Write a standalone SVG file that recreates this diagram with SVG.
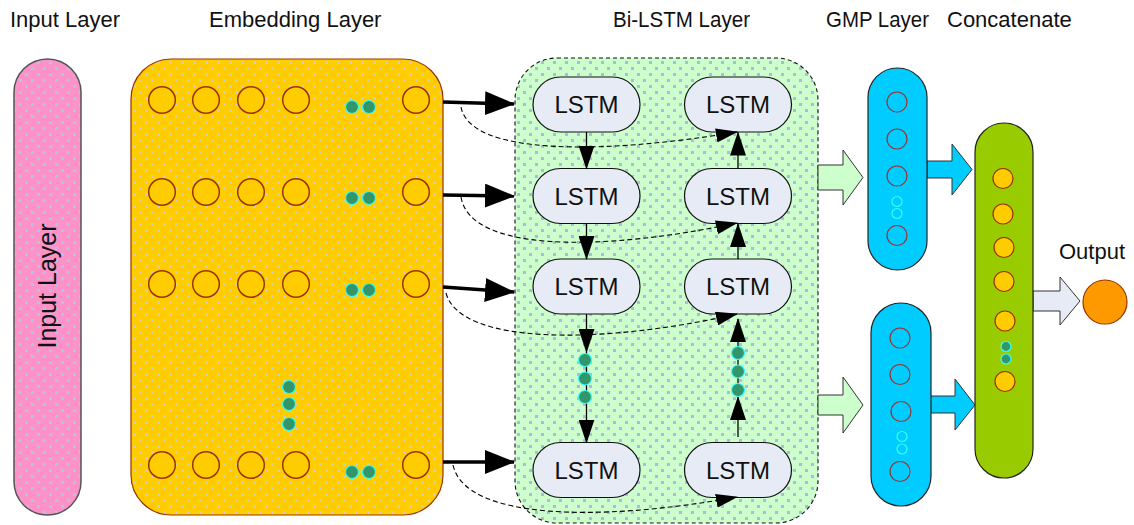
<svg xmlns="http://www.w3.org/2000/svg" width="1134" height="525" viewBox="0 0 1134 525">
<defs>
<style>
.title{font-family:"Liberation Sans",Arial,sans-serif;font-size:22px;fill:#111}
.lstm-text{font-family:"Liberation Sans",Arial,sans-serif;font-size:24px;fill:#111;text-anchor:middle}
.lstm{fill:#E6EBF6;stroke:#111;stroke-width:1.2}
.emb{fill:#FFCC00;stroke:#993300;stroke-width:1.5}
.gdot{fill:#33966A;stroke:#33FFFF;stroke-width:1.2}
.gmpc{fill:none;stroke:#993333;stroke-width:1.2}
.gmps{fill:none;stroke:#33FFFF;stroke-width:1.2}
.catc{fill:#FFCC00;stroke:#993300;stroke-width:1.2}
.thick{stroke:#000;stroke-width:3.5;fill:none;marker-end:url(#big)}
.vert{stroke:#000;stroke-width:1.3;fill:none;marker-end:url(#mid)}
.dash{stroke:#000;stroke-width:1.1;fill:none;stroke-dasharray:5 3;marker-end:url(#dh)}
</style>
<pattern id="pPink" width="12" height="12" patternUnits="userSpaceOnUse">
<rect width="12" height="12" fill="#FB93C8"/>
<rect x="1" y="1" width="3" height="3" fill="#A9C6E2"/>
<rect x="7" y="7" width="3" height="3" fill="#A9C6E2"/>
</pattern>
<pattern id="pGold" width="12" height="12" patternUnits="userSpaceOnUse">
<rect width="12" height="12" fill="#FFCC00"/>
<rect x="1" y="1" width="3" height="3" fill="#C3CADA"/>
<rect x="7" y="7" width="3" height="3" fill="#C3CADA"/>
</pattern>
<pattern id="pGreen" width="12" height="12" patternUnits="userSpaceOnUse">
<rect width="12" height="12" fill="#CCFFCC"/>
<rect x="1" y="1" width="3" height="3" fill="#ABB8E8"/>
<rect x="7" y="7" width="3" height="3" fill="#ABB8E8"/>
</pattern>
<marker id="big" viewBox="0 0 30 24" markerWidth="30" markerHeight="24" refX="29" refY="12" orient="auto" markerUnits="userSpaceOnUse">
<path d="M0,0 L30,12 L0,24 z" fill="#000"/>
</marker>
<marker id="mid" viewBox="0 0 24 16" markerWidth="24" markerHeight="16" refX="23" refY="8" orient="auto" markerUnits="userSpaceOnUse">
<path d="M0,0 L24,8 L0,16 z" fill="#000"/>
</marker>
<marker id="dh" viewBox="0 0 22 14" markerWidth="22" markerHeight="14" refX="21" refY="7" orient="auto" markerUnits="userSpaceOnUse">
<path d="M0,0 L22,7 L0,14 z" fill="#000"/>
</marker>
</defs>
<rect width="1134" height="525" fill="#fff"/>

<g id="titles">
<text class="title" x="10" y="27">Input Layer</text>
<text class="title" x="209" y="27">Embedding Layer</text>
<text class="title" x="613" y="27" textLength="137" lengthAdjust="spacingAndGlyphs">Bi-LSTM Layer</text>
<text class="title" x="826" y="27" textLength="103" lengthAdjust="spacingAndGlyphs">GMP Layer</text>
<text class="title" x="947" y="27">Concatenate</text>
<text class="title" x="1059" y="259">Output</text>
</g>

<g id="input-layer">
<rect x="14" y="59" width="67" height="456" rx="33.5" fill="url(#pPink)" stroke="#555" stroke-width="1.5"/>
<text class="title" style="font-size:25px" text-anchor="middle" transform="translate(56,286) rotate(-90)">Input Layer</text>
</g>

<g id="embedding-layer">
<rect x="131" y="59" width="312" height="456" rx="40" fill="url(#pGold)" stroke="#993300" stroke-width="1.2"/>
<g>
<circle class="emb" cx="162" cy="100" r="13.3"/><circle class="emb" cx="206" cy="100" r="13.3"/><circle class="emb" cx="251" cy="100" r="13.3"/><circle class="emb" cx="296" cy="100" r="13.3"/><circle class="emb" cx="416" cy="100" r="13.3"/>
<circle class="gdot" cx="352" cy="107" r="6.5"/><circle class="gdot" cx="369" cy="107" r="6.5"/>
<circle class="emb" cx="162" cy="192" r="13.3"/><circle class="emb" cx="206" cy="192" r="13.3"/><circle class="emb" cx="251" cy="192" r="13.3"/><circle class="emb" cx="296" cy="192" r="13.3"/><circle class="emb" cx="416" cy="192" r="13.3"/>
<circle class="gdot" cx="352" cy="198" r="6.5"/><circle class="gdot" cx="369" cy="198" r="6.5"/>
<circle class="emb" cx="162" cy="284" r="13.3"/><circle class="emb" cx="206" cy="284" r="13.3"/><circle class="emb" cx="251" cy="284" r="13.3"/><circle class="emb" cx="296" cy="284" r="13.3"/><circle class="emb" cx="416" cy="284" r="13.3"/>
<circle class="gdot" cx="352" cy="290" r="6.5"/><circle class="gdot" cx="369" cy="290" r="6.5"/>
<circle class="gdot" cx="289" cy="387" r="6.5"/><circle class="gdot" cx="289" cy="404" r="6.5"/><circle class="gdot" cx="289" cy="424" r="6.5"/>
<circle class="emb" cx="162" cy="465" r="13.3"/><circle class="emb" cx="206" cy="465" r="13.3"/><circle class="emb" cx="251" cy="465" r="13.3"/><circle class="emb" cx="296" cy="465" r="13.3"/><circle class="emb" cx="416" cy="465" r="13.3"/>
<circle class="gdot" cx="352" cy="472" r="6.5"/><circle class="gdot" cx="369" cy="472" r="6.5"/>
</g>
</g>

<g id="bilstm-layer">
<rect x="515" y="58" width="303" height="465" rx="42" fill="url(#pGreen)" stroke="#111" stroke-width="1.1" stroke-dasharray="4 3"/>
</g>

<g id="lstm-1-1"><rect class="lstm" x="533" y="77" width="107" height="55" rx="27.5"/><text class="lstm-text" x="586.5" y="113">LSTM</text></g>
<g id="lstm-1-2"><rect class="lstm" x="684.5" y="77" width="107" height="55" rx="27.5"/><text class="lstm-text" x="738" y="113">LSTM</text></g>
<g id="lstm-2-1"><rect class="lstm" x="533" y="168.5" width="107" height="55" rx="27.5"/><text class="lstm-text" x="586.5" y="204.5">LSTM</text></g>
<g id="lstm-2-2"><rect class="lstm" x="684.5" y="168.5" width="107" height="55" rx="27.5"/><text class="lstm-text" x="738" y="204.5">LSTM</text></g>
<g id="lstm-3-1"><rect class="lstm" x="533" y="259" width="107" height="55" rx="27.5"/><text class="lstm-text" x="586.5" y="295">LSTM</text></g>
<g id="lstm-3-2"><rect class="lstm" x="684.5" y="259" width="107" height="55" rx="27.5"/><text class="lstm-text" x="738" y="295">LSTM</text></g>
<g id="lstm-4-1"><rect class="lstm" x="533" y="442.5" width="107" height="55" rx="27.5"/><text class="lstm-text" x="586.5" y="478.5">LSTM</text></g>
<g id="lstm-4-2"><rect class="lstm" x="684.5" y="442.5" width="107" height="55" rx="27.5"/><text class="lstm-text" x="738" y="478.5">LSTM</text></g>

<g id="connectors">
<path class="thick" d="M443,102 L514,104"/>
<path class="thick" d="M443,195 L514,196"/>
<path class="thick" d="M443,287 L514,292"/>
<path class="thick" d="M443,462 L514,462"/>
<path class="dash" d="M461,107 C470,155 600,155 737,132"/>
<path class="dash" d="M461,197 C470,252 600,252 737,223"/>
<path class="dash" d="M446,293 C460,345 600,345 737,314"/>
<path class="dash" d="M453,465 C465,520 600,522 737,497"/>
<path class="vert" d="M586.5,132 L586.5,168.5"/>
<path class="vert" d="M738,168.5 L738,132.5"/>
<path class="vert" d="M586.5,223.5 L586.5,259"/>
<path class="vert" d="M738,259 L738,224"/>
<path class="vert" d="M586.5,314 L586.5,352"/>
<path class="vert" d="M586.5,352 L586.5,442.5"/>
<path class="vert" d="M738,437 L738,397"/>
<path class="vert" d="M738,397 L738,319"/>
<circle class="gdot" cx="585" cy="360" r="6.5"/><circle class="gdot" cx="585" cy="378.5" r="6.5"/><circle class="gdot" cx="585" cy="397" r="6.5"/>
<circle class="gdot" cx="738" cy="353" r="6.5"/><circle class="gdot" cx="738" cy="371.5" r="6.5"/><circle class="gdot" cx="738" cy="390" r="6.5"/>
<polygon points="818,165 843,165 843,150 863,177.5 843,205 843,190 818,190" fill="#CCFFCC" stroke="#333" stroke-width="1"/>
<polygon points="818,395 843,395 843,377 863,405 843,433 843,415 818,415" fill="#CCFFCC" stroke="#333" stroke-width="1"/>
<polygon points="927,161 952,161 952,144 972,169.5 952,195 952,178 927,178" fill="#00CCFF" stroke="#333" stroke-width="1"/>
<polygon points="930,396 955,396 955,379 975,405 955,430 955,413 930,413" fill="#00CCFF" stroke="#333" stroke-width="1"/>
<polygon points="1033,291 1060,291 1060,277 1080,301 1060,325 1060,311 1033,311" fill="#E6EBF6" stroke="#333" stroke-width="1"/>
</g>

<g id="gmp-1">
<rect x="868" y="68" width="59" height="202" rx="29.5" fill="#00CCFF" stroke="#222" stroke-width="1.2"/>
<circle class="gmpc" cx="897" cy="102" r="10"/><circle class="gmpc" cx="897" cy="139" r="10"/><circle class="gmpc" cx="897" cy="176" r="10"/>
<circle class="gmps" cx="897" cy="201.5" r="5"/><circle class="gmps" cx="897" cy="213.5" r="5"/>
<circle class="gmpc" cx="897" cy="235.5" r="10"/>
</g>
<g id="gmp-2">
<rect x="871" y="303" width="60" height="203" rx="30" fill="#00CCFF" stroke="#222" stroke-width="1.2"/>
<circle class="gmpc" cx="900" cy="338" r="10"/><circle class="gmpc" cx="900" cy="374.5" r="10"/><circle class="gmpc" cx="901" cy="411.5" r="10"/>
<circle class="gmps" cx="902" cy="436.5" r="5"/><circle class="gmps" cx="902" cy="449" r="5"/>
<circle class="gmpc" cx="900" cy="471.5" r="10"/>
</g>
<g id="concatenate">
<rect x="975" y="123" width="58" height="355" rx="29" fill="#99CC00" stroke="#222" stroke-width="1.2"/>
<circle class="catc" cx="1003" cy="178.5" r="10"/><circle class="catc" cx="1003" cy="214" r="10"/><circle class="catc" cx="1004" cy="247.5" r="10"/><circle class="catc" cx="1004" cy="281.5" r="10"/><circle class="catc" cx="1005" cy="321" r="10"/>
<circle class="gdot" cx="1006" cy="346.5" r="5"/><circle class="gdot" cx="1006" cy="359" r="5"/>
<circle class="catc" cx="1005" cy="381.5" r="10"/>
</g>
<g id="output">
<circle cx="1105" cy="302" r="22" fill="#FF9900" stroke="#993300" stroke-width="1.2"/>
</g>
</svg>
